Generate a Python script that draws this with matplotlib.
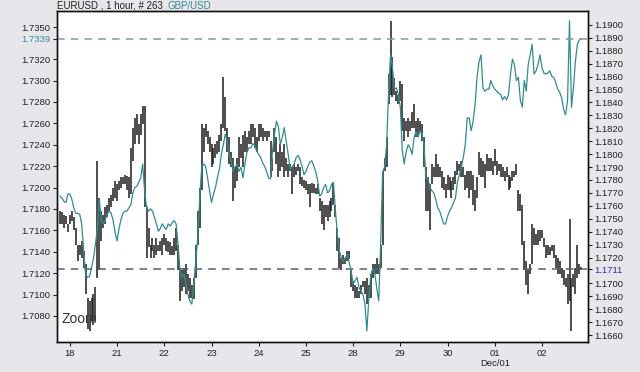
import matplotlib
matplotlib.use('Agg')
from matplotlib import pyplot as plt

plt.rcParams['font.family'] = ['Liberation Sans', 'DejaVu Sans']

# EURUSD 1 hour bars (right axis)
eur_high = [
    1.1756, 1.1755, 1.1753, 1.1752, 1.1746, 1.1753, 1.1756, 1.1751, 1.1743, 1.1730,
    1.1730, 1.1733, 1.1725, 1.1715, 1.1689, 1.1686, 1.1689, 1.1692, 1.1697, 1.1795,
    1.1766, 1.1756, 1.1753, 1.1759, 1.1761, 1.1766, 1.1768, 1.1774, 1.1779, 1.1777,
    1.1779, 1.1782, 1.1782, 1.1784, 1.1783, 1.1782, 1.1805, 1.1820, 1.1828, 1.1831,
    1.1823, 1.1831, 1.1837, 1.1837, 1.1759, 1.1743, 1.1730, 1.1735, 1.1730, 1.1735,
    1.1730, 1.1733, 1.1735, 1.1738, 1.1735, 1.1733, 1.1732, 1.1729, 1.1735, 1.1743,
    1.1730, 1.1712, 1.1710, 1.1712, 1.1715, 1.1707, 1.1704, 1.1699, 1.1704, 1.1730,
    1.1756, 1.1774, 1.1823, 1.1820, 1.1823, 1.1818, 1.1813, 1.1808, 1.1805, 1.1808,
    1.1810, 1.1815, 1.1823, 1.1860, 1.1844, 1.1820, 1.1813, 1.1802, 1.1797, 1.1790,
    1.1797, 1.1813, 1.1808, 1.1815, 1.1818, 1.1813, 1.1818, 1.1823, 1.1823, 1.1820,
    1.1813, 1.1823, 1.1823, 1.1820, 1.1818, 1.1818, 1.1818, 1.1810, 1.1797, 1.1820,
    1.1813, 1.1802, 1.1808, 1.1802, 1.1808, 1.1797, 1.1792, 1.1792, 1.1790, 1.1792,
    1.1790, 1.1792, 1.1790, 1.1782, 1.1780, 1.1779, 1.1777, 1.1777, 1.1778, 1.1777,
    1.1774, 1.1777, 1.1766, 1.1764, 1.1761, 1.1761, 1.1761, 1.1764, 1.1766, 1.1777,
    1.1761, 1.1743, 1.1735, 1.1720, 1.1722, 1.1720, 1.1725, 1.1725, 1.1710, 1.1702,
    1.1699, 1.1697, 1.1694, 1.1699, 1.1702, 1.1702, 1.1704, 1.1699, 1.1707, 1.1715,
    1.1715, 1.1720, 1.1715, 1.1730, 1.1787, 1.1797, 1.1813, 1.1862, 1.1903, 1.1875,
    1.1859, 1.1849, 1.1846, 1.1857, 1.1854, 1.1828, 1.1826, 1.1828, 1.1826, 1.1833,
    1.1839, 1.1826, 1.1828, 1.1826, 1.1823, 1.1813, 1.1790, 1.1782, 1.1777, 1.1792,
    1.1790, 1.1800, 1.1792, 1.1790, 1.1787, 1.1782, 1.1777, 1.1784, 1.1782, 1.1779,
    1.1782, 1.1787, 1.1795, 1.1792, 1.1795, 1.1790, 1.1784, 1.1787, 1.1787, 1.1787,
    1.1784, 1.1772, 1.1782, 1.1802, 1.1797, 1.1795, 1.1792, 1.1800, 1.1797, 1.1797,
    1.1795, 1.1804, 1.1795, 1.1792, 1.1792, 1.1790, 1.1787, 1.1790, 1.1784, 1.1782,
    1.1787, 1.1787, 1.1792, 1.1772, 1.1769, 1.1761, 1.1733, 1.1717, 1.1710, 1.1715,
    1.1746, 1.1743, 1.1738, 1.1741, 1.1741, 1.1741, 1.1735, 1.1730, 1.1730, 1.1728,
    1.1730, 1.1730, 1.1722, 1.1720, 1.1717, 1.1712, 1.1710, 1.1704, 1.1707, 1.1750,
    1.1704, 1.1707, 1.1712, 1.1730, 1.1715, 1.1713,
]
eur_low = [
    1.1746, 1.1746, 1.1743, 1.1746, 1.1740, 1.1746, 1.1748, 1.1741, 1.1730, 1.1717,
    1.1722, 1.1720, 1.1712, 1.1692, 1.1665, 1.1663, 1.1671, 1.1668, 1.1671, 1.1704,
    1.1710, 1.1733, 1.1743, 1.1746, 1.1751, 1.1756, 1.1759, 1.1764, 1.1766, 1.1764,
    1.1772, 1.1774, 1.1777, 1.1777, 1.1772, 1.1766, 1.1769, 1.1795, 1.1808, 1.1815,
    1.1808, 1.1815, 1.1823, 1.1759, 1.1720, 1.1728, 1.1720, 1.1725, 1.1720, 1.1722,
    1.1725, 1.1725, 1.1722, 1.1730, 1.1725, 1.1724, 1.1722, 1.1722, 1.1722, 1.1725,
    1.1710, 1.1686, 1.1694, 1.1697, 1.1692, 1.1694, 1.1689, 1.1689, 1.1688, 1.1704,
    1.1730, 1.1743, 1.1772, 1.1802, 1.1813, 1.1808, 1.1802, 1.1790, 1.1792, 1.1797,
    1.1800, 1.1802, 1.1810, 1.1820, 1.1818, 1.1802, 1.1792, 1.1790, 1.1764, 1.1774,
    1.1779, 1.1790, 1.1797, 1.1790, 1.1802, 1.1802, 1.1808, 1.1808, 1.1813, 1.1805,
    1.1802, 1.1810, 1.1813, 1.1810, 1.1813, 1.1810, 1.1813, 1.1782, 1.1787, 1.1802,
    1.1792, 1.1782, 1.1787, 1.1790, 1.1782, 1.1787, 1.1782, 1.1787, 1.1769, 1.1782,
    1.1784, 1.1787, 1.1777, 1.1775, 1.1774, 1.1772, 1.1769, 1.1759, 1.1770, 1.1770,
    1.1769, 1.1769, 1.1756, 1.1746, 1.1741, 1.1751, 1.1748, 1.1751, 1.1756, 1.1761,
    1.1751, 1.1725, 1.1712, 1.1710, 1.1715, 1.1715, 1.1717, 1.1719, 1.1697, 1.1694,
    1.1689, 1.1689, 1.1689, 1.1692, 1.1697, 1.1692, 1.1684, 1.1689, 1.1689, 1.1704,
    1.1707, 1.1707, 1.1707, 1.1712, 1.1730, 1.1787, 1.1790, 1.1839, 1.1846, 1.1844,
    1.1846, 1.1841, 1.1839, 1.1841, 1.1818, 1.1810, 1.1818, 1.1813, 1.1818, 1.1820,
    1.1820, 1.1813, 1.1815, 1.1818, 1.1810, 1.1790, 1.1756, 1.1756, 1.1741, 1.1777,
    1.1782, 1.1782, 1.1782, 1.1782, 1.1774, 1.1772, 1.1766, 1.1772, 1.1772, 1.1766,
    1.1772, 1.1777, 1.1784, 1.1787, 1.1782, 1.1782, 1.1772, 1.1774, 1.1766, 1.1772,
    1.1761, 1.1756, 1.1766, 1.1784, 1.1782, 1.1782, 1.1774, 1.1787, 1.1787, 1.1787,
    1.1784, 1.1791, 1.1784, 1.1787, 1.1782, 1.1782, 1.1779, 1.1782, 1.1772, 1.1774,
    1.1779, 1.1782, 1.1784, 1.1756, 1.1756, 1.1730, 1.1710, 1.1699, 1.1692, 1.1707,
    1.1715, 1.1730, 1.1730, 1.1730, 1.1733, 1.1735, 1.1728, 1.1720, 1.1722, 1.1722,
    1.1725, 1.1720, 1.1712, 1.1707, 1.1707, 1.1704, 1.1699, 1.1697, 1.1684, 1.1686,
    1.1663, 1.1697, 1.1692, 1.1704, 1.1707, 1.1710,
]
# GBP/USD hourly close (left axis)
gbp = [
    1.7192, 1.7190, 1.7187, 1.7186, 1.7194, 1.7194, 1.7189, 1.7181, 1.7176, 1.7176,
    1.7175, 1.7166, 1.7141, 1.7119, 1.7116, 1.7117, 1.7125, 1.7134, 1.7147, 1.7162,
    1.7189, 1.7169, 1.7166, 1.7170, 1.7175, 1.7178, 1.7176, 1.7169, 1.7158, 1.7150,
    1.7162, 1.7170, 1.7176, 1.7178, 1.7178, 1.7181, 1.7184, 1.7195, 1.7200, 1.7201,
    1.7205, 1.7209, 1.7222, 1.7197, 1.7181, 1.7178, 1.7180, 1.7178, 1.7172, 1.7166,
    1.7159, 1.7162, 1.7166, 1.7163, 1.7161, 1.7166, 1.7164, 1.7167, 1.7169, 1.7166,
    1.7147, 1.7122, 1.7116, 1.7119, 1.7110, 1.7100, 1.7094, 1.7091, 1.7110, 1.7131,
    1.7153, 1.7190, 1.7219, 1.7222, 1.7220, 1.7209, 1.7197, 1.7186, 1.7194, 1.7200,
    1.7209, 1.7217, 1.7231, 1.7240, 1.7250, 1.7243, 1.7231, 1.7225, 1.7215, 1.7219,
    1.7222, 1.7215, 1.7219, 1.7209, 1.7222, 1.7233, 1.7237, 1.7237, 1.7241, 1.7239,
    1.7234, 1.7231, 1.7228, 1.7223, 1.7220, 1.7215, 1.7209, 1.7208, 1.7234, 1.7250,
    1.7262, 1.7257, 1.7240, 1.7247, 1.7256, 1.7243, 1.7231, 1.7217, 1.7219, 1.7222,
    1.7228, 1.7230, 1.7226, 1.7220, 1.7212, 1.7215, 1.7220, 1.7224, 1.7225, 1.7220,
    1.7215, 1.7206, 1.7192, 1.7194, 1.7200, 1.7203, 1.7195, 1.7197, 1.7203, 1.7205,
    1.7178, 1.7156, 1.7141, 1.7134, 1.7131, 1.7134, 1.7138, 1.7130, 1.7122, 1.7110,
    1.7113, 1.7116, 1.7106, 1.7103, 1.7100, 1.7091, 1.7066, 1.7097, 1.7119, 1.7124,
    1.7120, 1.7106, 1.7094, 1.7147, 1.7215, 1.7219, 1.7240, 1.7287, 1.7324, 1.7312,
    1.7292, 1.7293, 1.7287, 1.7275, 1.7234, 1.7222, 1.7234, 1.7240, 1.7237, 1.7231,
    1.7247, 1.7252, 1.7247, 1.7253, 1.7250, 1.7240, 1.7209, 1.7209, 1.7200, 1.7197,
    1.7195, 1.7189, 1.7181, 1.7178, 1.7172, 1.7166, 1.7166, 1.7173, 1.7178, 1.7181,
    1.7186, 1.7190, 1.7205, 1.7212, 1.7219, 1.7228, 1.7240, 1.7265, 1.7265, 1.7253,
    1.7262, 1.7278, 1.7303, 1.7318, 1.7324, 1.7293, 1.7290, 1.7292, 1.7292, 1.7300,
    1.7295, 1.7292, 1.7290, 1.7288, 1.7287, 1.7282, 1.7285, 1.7282, 1.7287, 1.7306,
    1.7320, 1.7315, 1.7300, 1.7303, 1.7282, 1.7275, 1.7300, 1.7290, 1.7315, 1.7324,
    1.7334, 1.7306, 1.7309, 1.7315, 1.7324, 1.7312, 1.7307, 1.7306, 1.7307, 1.7309,
    1.7304, 1.7303, 1.7298, 1.7292, 1.7289, 1.7284, 1.7273, 1.7268, 1.7281, 1.7356,
    1.7275, 1.7293, 1.7318, 1.7334, 1.7338, 1.7339,
]

day_pos = [5, 29, 53, 77, 101, 125, 149, 173, 197, 221, 245]
day_labels = ['18', '21', '22', '23', '24', '25', '28', '29', '30', '01', '02']

eur_ticks = [1.1660, 1.1670, 1.1680, 1.1690, 1.1700, 1.1711, 1.1720, 1.1730, 1.1740,
             1.1750, 1.1760, 1.1770, 1.1780, 1.1790, 1.1800, 1.1810, 1.1820, 1.1830,
             1.1840, 1.1850, 1.1860, 1.1870, 1.1880, 1.1890, 1.1900]
gbp_ticks = [1.7080, 1.7100, 1.7120, 1.7140, 1.7160, 1.7180, 1.7200, 1.7220, 1.7240,
             1.7260, 1.7280, 1.7300, 1.7320, 1.7339, 1.7350]
eur_last = 1.1711
gbp_last = 1.7339

teal = '#338c8c'
bg = '#e8e6ea'

fig = plt.figure(figsize=(6.4, 3.72), dpi=100, facecolor=bg)
ax = fig.add_axes([56.5 / 640, 1 - 342 / 372, (588 - 56.5) / 640, (342 - 11) / 372])
idx = list(range(len(eur_high)))

ax.vlines(idx, eur_low, eur_high, color='#1c1c1c', lw=1.1)
ax.axhline(eur_last, color='#5a5a82', lw=1.1, ls=(0, (5, 4)))
ax.set_xlim(-1.8, 268.4)
ax.set_ylim(1.16546, 1.19108)

axg = ax.twinx()
axg.plot(range(len(gbp)), gbp, color=teal, lw=0.9)
axg.axhline(gbp_last, color='#829a9c', lw=1.1, ls=(0, (5, 4)))
axg.set_ylim(1.70556, 1.73650)

ax.yaxis.tick_right()
axg.yaxis.tick_left()

ax.set_yticks(eur_ticks)
ax.set_yticklabels(['%.4f' % v for v in eur_ticks])
axg.set_yticks(gbp_ticks)
axg.set_yticklabels(['%.4f' % v for v in gbp_ticks])

ax.set_xticks(day_pos)
ax.set_xticklabels(day_labels)
ax.text(221, -0.052, 'Dec/01', transform=ax.get_xaxis_transform(),
        ha='center', va='top', fontsize=6.8, color='#222222')

for a in (ax, axg):
    a.tick_params(axis='both', length=3, width=0.8, labelsize=6.8, pad=1.5,
                  colors='#222222')
    for s in a.spines.values():
        s.set_linewidth(1.0)
        s.set_color('#111111')
ax.tick_params(axis='x', pad=2)
for lab, v in zip(ax.get_yticklabels(), eur_ticks):
    lab.set_color('#3030a0' if v == eur_last else '#222222')
for lab, v in zip(axg.get_yticklabels(), gbp_ticks):
    lab.set_color(teal if v == gbp_last else '#222222')

ax.set_facecolor('white')

fig.text(57 / 640, 1 - 6 / 372, 'EURUSD , 1 hour, # 263', fontsize=7, va='center',
         color='#222222')
fig.text(168 / 640, 1 - 6 / 372, 'GBP/USD', fontsize=7, va='center', color=teal)
fig.text(61 / 640, 1 - 319 / 372, 'Zoom', fontsize=10, va='center', color='#333333')

fig.savefig('out.png', dpi=100, facecolor=bg)
